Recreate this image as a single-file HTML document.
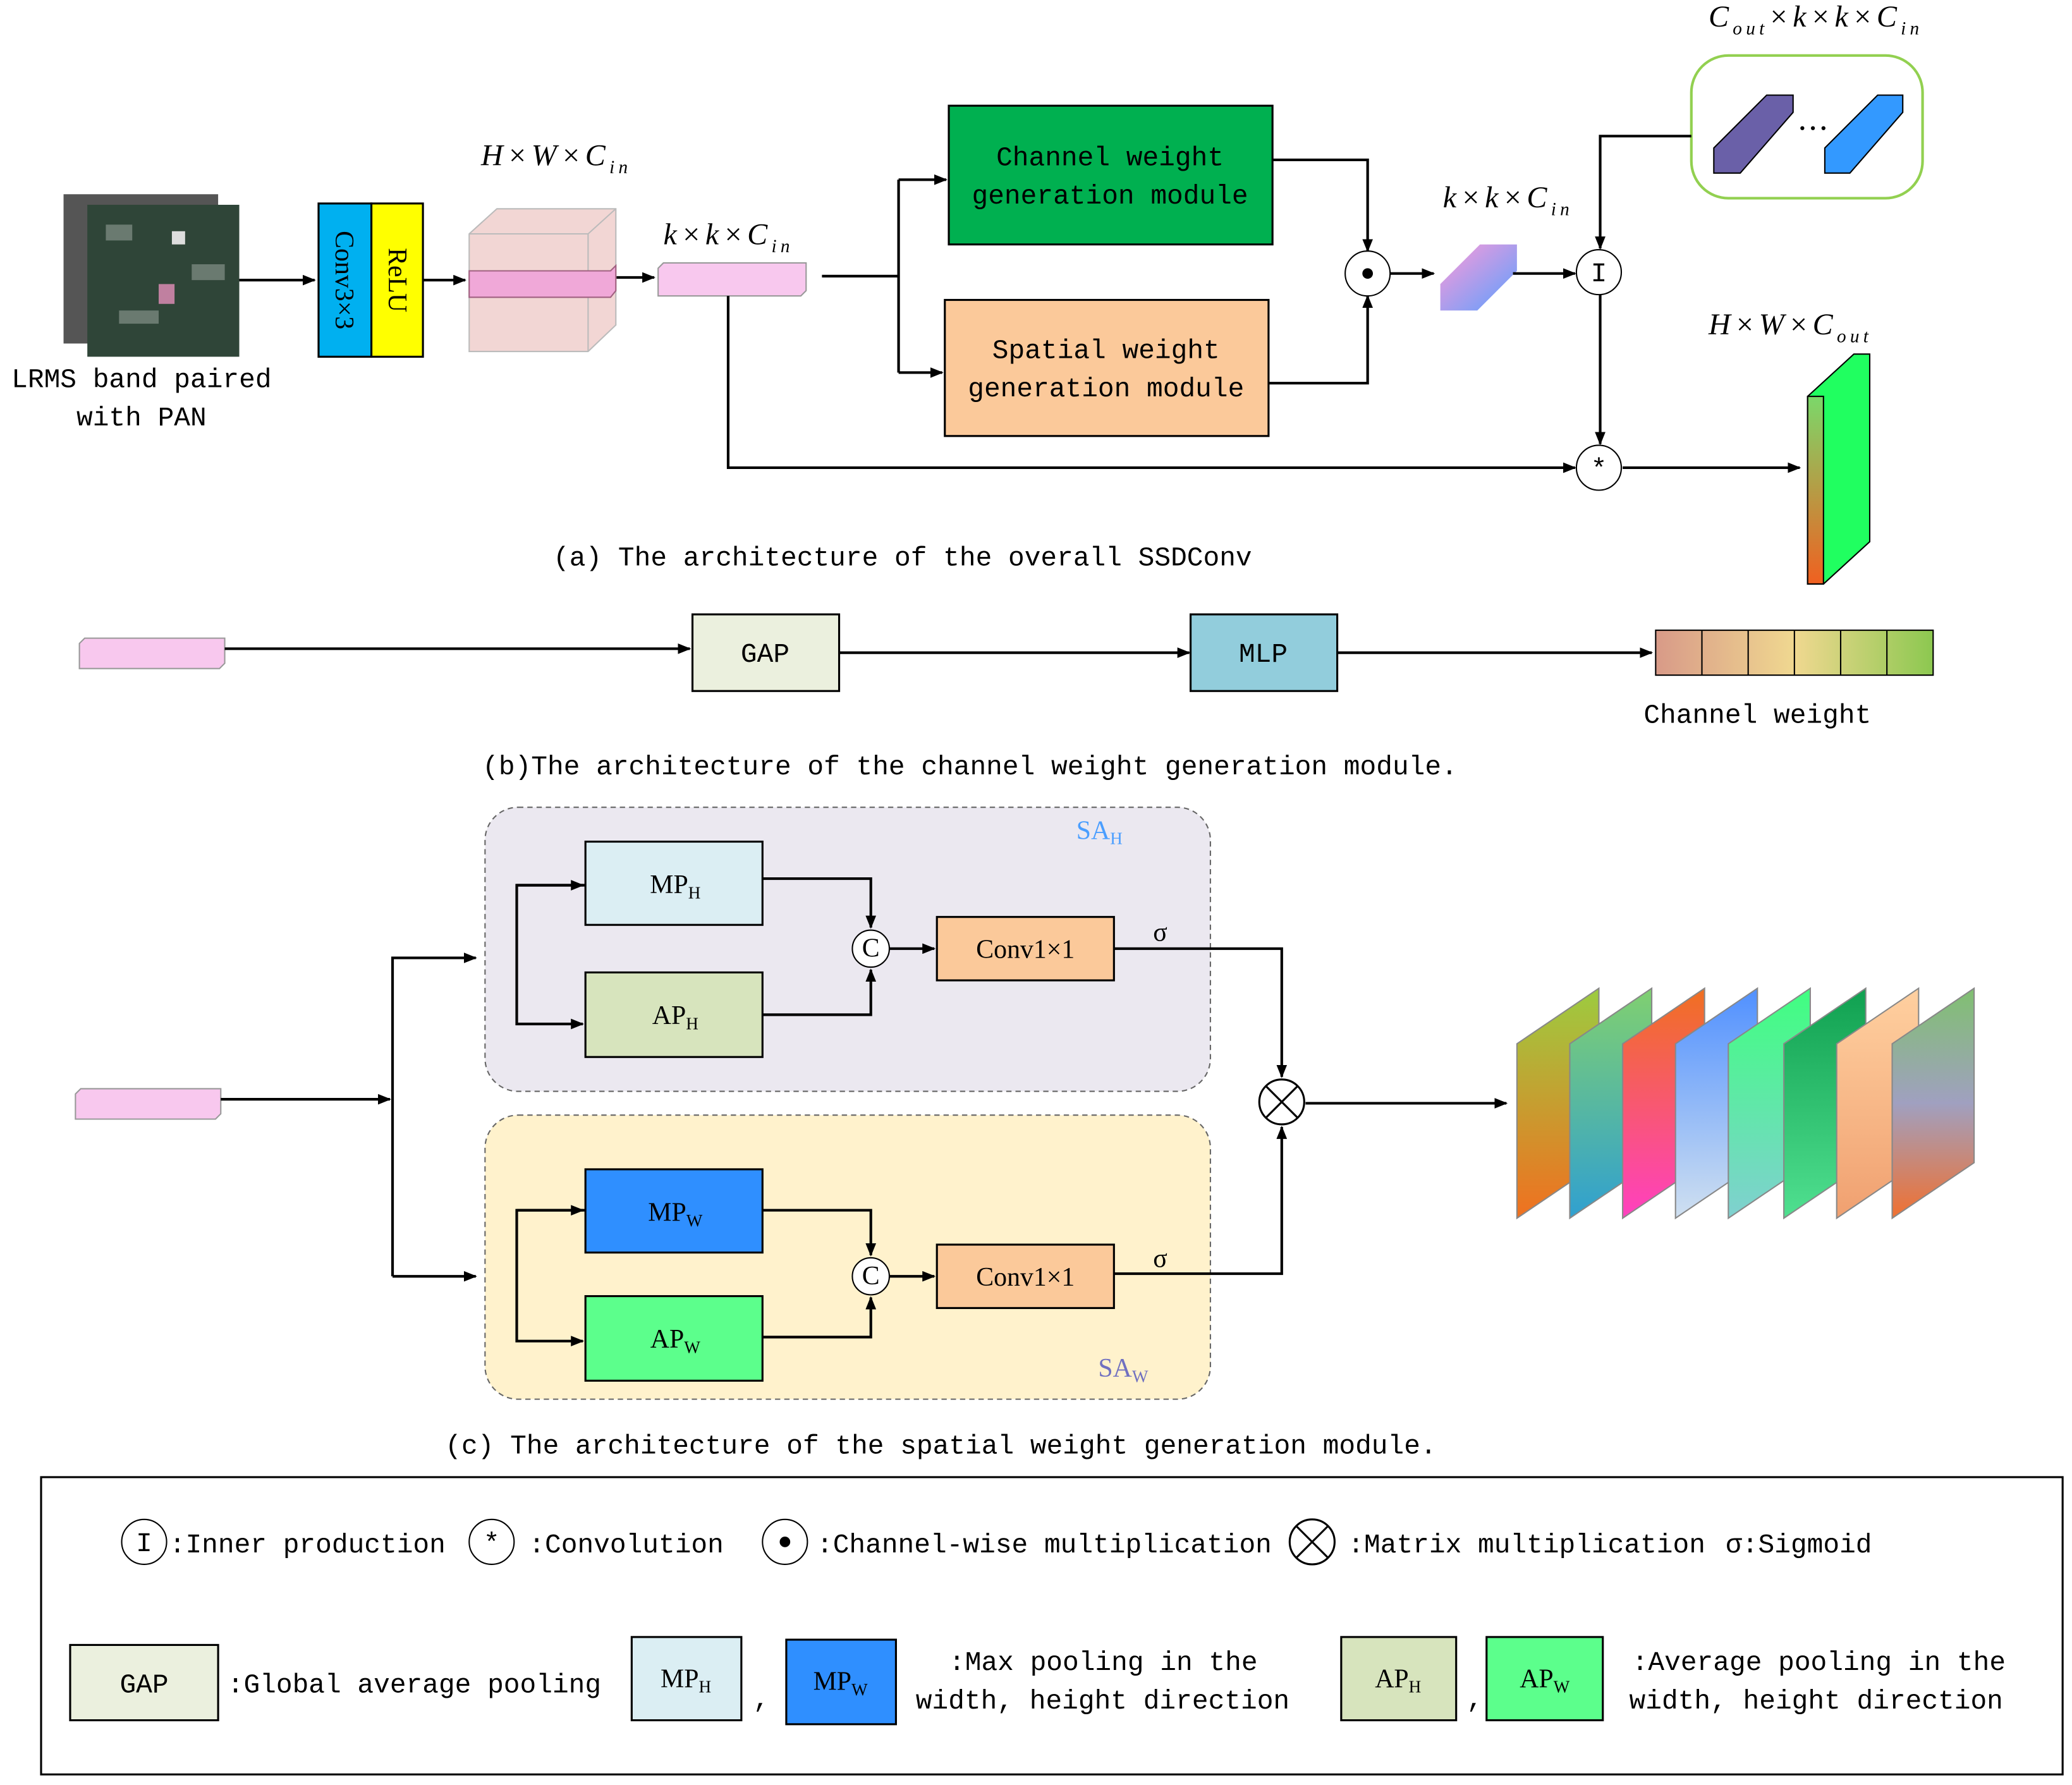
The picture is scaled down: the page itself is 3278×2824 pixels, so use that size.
<!DOCTYPE html>
<html><head><meta charset="utf-8"><style>html,body{margin:0;padding:0;background:#fff}svg{display:block}
.m{font-family:"Liberation Mono","Noto Sans CJK SC",monospace;font-size:20.5px;fill:#000}
.s{font-family:"Liberation Serif",serif;font-style:italic;font-size:23px;fill:#000;letter-spacing:3px}
.b{font-family:"Liberation Serif",serif;font-size:20px;fill:#000}
</style></head><body>
<svg width="3278" height="2824" viewBox="0 0 1568 1351" xmlns="http://www.w3.org/2000/svg">
<defs>
<marker id="a" markerWidth="10" markerHeight="8" refX="9" refY="4" orient="auto" markerUnits="userSpaceOnUse"><path d="M0,0L10,4L0,8z" fill="#000"/></marker>
<linearGradient id="g1" x1="0" y1="0" x2="0" y2="1"><stop offset="0" stop-color="#7bd86a"/><stop offset="1" stop-color="#f06020"/></linearGradient>
<linearGradient id="g2" x1="0" y1="0" x2="1" y2="1"><stop offset="0" stop-color="#ff9ad8"/><stop offset="1" stop-color="#5aa0ff"/></linearGradient>
<linearGradient id="cw" x1="0" x2="1"><stop offset="0" stop-color="#d89a88"/><stop offset=".5" stop-color="#f0d890"/><stop offset="1" stop-color="#8cc850"/></linearGradient>
<linearGradient id="s1" x1="0" y1="0" x2="0" y2="1"><stop offset="0" stop-color="#9ccc40"/><stop offset="1" stop-color="#f07020"/></linearGradient>
<linearGradient id="s2" x1="0" y1="0" x2="0" y2="1"><stop offset="0" stop-color="#80d070"/><stop offset="1" stop-color="#30a0d0"/></linearGradient>
<linearGradient id="s3" x1="0" y1="0" x2="0" y2="1"><stop offset="0" stop-color="#f07020"/><stop offset="1" stop-color="#ff40c0"/></linearGradient>
<linearGradient id="s4" x1="0" y1="0" x2="0" y2="1"><stop offset="0" stop-color="#5090ff"/><stop offset="1" stop-color="#d0e0f0"/></linearGradient>
<linearGradient id="s5" x1="0" y1="0" x2="0" y2="1"><stop offset="0" stop-color="#40ff80"/><stop offset="1" stop-color="#80d0d0"/></linearGradient>
<linearGradient id="s6" x1="0" y1="0" x2="0" y2="1"><stop offset="0" stop-color="#10a050"/><stop offset="1" stop-color="#50e090"/></linearGradient>
<linearGradient id="s7" x1="0" y1="0" x2="0" y2="1"><stop offset="0" stop-color="#ffd0a0"/><stop offset="1" stop-color="#f0a070"/></linearGradient>
<linearGradient id="s8" x1="0" y1="0" x2="0" y2="1"><stop offset="0" stop-color="#80c070"/><stop offset=".5" stop-color="#a0a0c0"/><stop offset="1" stop-color="#f07030"/></linearGradient>
</defs>
<g stroke="#000" stroke-width="2" fill="none">
<!-- (a) -->
<rect x="48" y="147" width="117" height="113" fill="#555" stroke="none"/>
<rect x="66" y="155" width="115" height="115" fill="#2f4538" stroke="none"/>
<g fill="#6a7a70" stroke="none"><rect x="80" y="170" width="20" height="12"/><rect x="130" y="175" width="10" height="10" fill="#ddd"/><rect x="120" y="215" width="12" height="15" fill="#c080a0"/><rect x="90" y="235" width="30" height="10"/><rect x="145" y="200" width="25" height="12"/></g>
<path d="M181,212H238" marker-end="url(#a)"/>
<path d="M320,212H352" marker-end="url(#a)"/>
<path d="M466,210H495" marker-end="url(#a)"/>
<path d="M622,209H680M680,136V282"/>
<path d="M680,136H716" marker-end="url(#a)"/>
<path d="M680,282H713" marker-end="url(#a)"/>
<rect x="241" y="154" width="40" height="116" fill="#00b0f0" stroke-width="1.5"/>
<rect x="281" y="154" width="39" height="116" fill="#ffff00" stroke-width="1.5"/>
<path d="M355,177L376,158H466V246L445,266H355Z" fill="#f2d6d4" stroke="#bbb" stroke-width="1"/>
<path d="M445,177V266M355,177H445L466,158" stroke="#bbb" stroke-width="1"/>
<path d="M355,205H462L466,201V220L462,225H355Z" fill="#f0a8d8" stroke="#a06080" stroke-width="1"/>
<path d="M498,203L502,199H610V220L606,224H498Z" fill="#f8c8ee" stroke="#999" stroke-width="1"/>
<rect x="718" y="80" width="245" height="105" fill="#00b050" stroke-width="1.5"/>
<rect x="715" y="227" width="245" height="103" fill="#fbc99a" stroke-width="1.5"/>
<path d="M963,121H1035V190" marker-end="url(#a)"/>
<path d="M960,290H1035V224" marker-end="url(#a)"/>
<circle cx="1035" cy="207" r="17" fill="#fff" stroke-width="1"/>
<path d="M1052,207H1085" marker-end="url(#a)"/>
<path d="M1090,215L1120,185H1148V205L1118,235H1090Z" fill="url(#g2)" stroke="none"/>
<path d="M1145,207H1192" marker-end="url(#a)"/>
<circle cx="1210" cy="206" r="17" fill="#fff" stroke-width="1"/>
<rect x="1280" y="42" width="175" height="108" rx="28" stroke="#92d050" stroke-width="2"/>
<path d="M1297,112L1337,72H1357V85L1317,131H1297Z" fill="#6a60a8" stroke-width="1"/>
<path d="M1381,112L1421,72H1440V85L1400,131H1381Z" fill="#3399ff" stroke-width="1"/>
<path d="M1280,103H1211V188" marker-end="url(#a)"/>
<path d="M1211,223V336" marker-end="url(#a)"/>
<circle cx="1210" cy="354" r="17" fill="#fff" stroke-width="1"/>
<path d="M551,224V354H1192" marker-end="url(#a)"/>
<path d="M1228,354H1362" marker-end="url(#a)"/>
<path d="M1368,300L1403,268H1415V410L1380,442H1368Z" fill="#20ff60" stroke-width="1"/>
<rect x="1368" y="300" width="12" height="142" fill="url(#g1)" stroke-width="1"/>
<!-- (b) -->
<path d="M60,487L64,483H170V502L166,506H60Z" fill="#f8c8ee" stroke="#999" stroke-width="1"/>
<path d="M170,491H522" marker-end="url(#a)"/>
<rect x="524" y="465" width="111" height="58" fill="#ebf0de" stroke-width="1.5"/>
<path d="M635,494H900" marker-end="url(#a)"/>
<rect x="901" y="465" width="111" height="58" fill="#92cddc" stroke-width="1.5"/>
<path d="M1012,494H1250" marker-end="url(#a)"/>
<rect x="1253" y="477" width="210" height="34" fill="url(#cw)" stroke-width="1"/>
<path d="M1288,477V511M1323,477V511M1358,477V511M1393,477V511M1428,477V511" stroke-width="1"/>
<!-- (c) -->
<rect x="367" y="611" width="549" height="215" rx="25" fill="#ebe8f0" stroke="#666" stroke-width="1" stroke-dasharray="4,3"/>
<rect x="367" y="844" width="549" height="215" rx="25" fill="#fff2cc" stroke="#666" stroke-width="1" stroke-dasharray="4,3"/>
<rect x="443" y="637" width="134" height="63" fill="#dbeef3" stroke-width="1.5"/>
<rect x="443" y="736" width="134" height="64" fill="#d7e4bd" stroke-width="1.5"/>
<rect x="443" y="885" width="134" height="63" fill="#2f8fff" stroke-width="1.5"/>
<rect x="443" y="981" width="134" height="64" fill="#5cff8c" stroke-width="1.5"/>
<path d="M57,828L61,824H167V843L163,847H57Z" fill="#f8c8ee" stroke="#999" stroke-width="1"/>
<path d="M167,832H295" marker-end="url(#a)"/>
<path d="M297,966V725H360" marker-end="url(#a)"/>
<path d="M297,966H360" marker-end="url(#a)"/>
<path d="M443,670H391V775H441" marker-end="url(#a)"/>
<path d="M391,670H441" marker-end="url(#a)"/>
<path d="M443,916H391V1015H441" marker-end="url(#a)"/>
<path d="M391,916H441" marker-end="url(#a)"/>
<path d="M577,665H659V702" marker-end="url(#a)"/>
<path d="M577,768H659V734" marker-end="url(#a)"/>
<path d="M577,916H659V950" marker-end="url(#a)"/>
<path d="M577,1012H659V982" marker-end="url(#a)"/>
<circle cx="659" cy="718" r="14" fill="#fff" stroke-width="1"/>
<circle cx="659" cy="966" r="14" fill="#fff" stroke-width="1"/>
<path d="M673,718H707" marker-end="url(#a)"/>
<path d="M673,966H707" marker-end="url(#a)"/>
<rect x="709" y="694" width="134" height="48" fill="#fbc99a" stroke-width="1.5"/>
<rect x="709" y="942" width="134" height="48" fill="#fbc99a" stroke-width="1.5"/>
<path d="M843,718H970V815" marker-end="url(#a)"/>
<path d="M843,964H970V853" marker-end="url(#a)"/>
<circle cx="970" cy="834" r="17" fill="#fff" stroke-width="1.5"/>
<path d="M958,822L982,846M982,822L958,846" stroke-width="1.5"/>
<path d="M988,835H1140" marker-end="url(#a)"/>
<g stroke="#888" stroke-width="1">
<path d="M1148,790L1210,748V880L1148,922Z" fill="url(#s1)"/>
<path d="M1188,790L1250,748V880L1188,922Z" fill="url(#s2)"/>
<path d="M1228,790L1290,748V880L1228,922Z" fill="url(#s3)"/>
<path d="M1268,790L1330,748V880L1268,922Z" fill="url(#s4)"/>
<path d="M1308,790L1370,748V880L1308,922Z" fill="url(#s5)"/>
<path d="M1350,790L1412,748V880L1350,922Z" fill="url(#s6)"/>
<path d="M1390,790L1452,748V880L1390,922Z" fill="url(#s7)"/>
<path d="M1432,790L1494,748V880L1432,922Z" fill="url(#s8)"/>
</g>
<!-- legend -->
<rect x="31" y="1118" width="1530" height="225" stroke-width="1.5"/>
<circle cx="109" cy="1167" r="17" fill="#fff" stroke-width="1"/>
<circle cx="372" cy="1167" r="17" fill="#fff" stroke-width="1"/>
<circle cx="594" cy="1167" r="17" fill="#fff" stroke-width="1"/>
<circle cx="993" cy="1167" r="17" fill="#fff" stroke-width="1.5"/>
<path d="M981,1155L1005,1179M1005,1155L981,1179" stroke-width="1.5"/>
<rect x="53" y="1245" width="112" height="57" fill="#ebf0de" stroke-width="1.5"/>
<rect x="478" y="1239" width="83" height="63" fill="#dbeef3" stroke-width="1.5"/>
<rect x="595" y="1241" width="83" height="64" fill="#2f8fff" stroke-width="1.5"/>
<rect x="1015" y="1239" width="87" height="63" fill="#d7e4bd" stroke-width="1.5"/>
<rect x="1125" y="1239" width="88" height="63" fill="#5cff8c" stroke-width="1.5"/>
</g>
<g fill="#000" stroke="none">
<circle cx="1035" cy="207" r="4"/><circle cx="594" cy="1167" r="4"/>
<circle cx="1364" cy="97" r="1.5"/><circle cx="1372" cy="97" r="1.5"/><circle cx="1380" cy="97" r="1.5"/>
</g>
<!-- texts -->
<text class="m" x="107" y="293" text-anchor="middle">LRMS band paired</text>
<text class="m" x="107" y="322" text-anchor="middle">with PAN</text>
<text class="b" transform="translate(254,212) rotate(90)" text-anchor="middle">Conv3×3</text>
<text class="b" transform="translate(294,212) rotate(90)" text-anchor="middle">ReLU</text>
<text class="s" x="364" y="125">H×W×C<tspan font-size="14" dy="6">in</tspan></text>
<text class="s" x="502" y="185">k×k×C<tspan font-size="14" dy="6">in</tspan></text>
<text class="s" x="1092" y="157">k×k×C<tspan font-size="14" dy="6">in</tspan></text>
<text class="s" x="1293" y="20">C<tspan font-size="14" dy="6">out</tspan><tspan dy="-6">×k×k×C</tspan><tspan font-size="14" dy="6">in</tspan></text>
<text class="s" x="1293" y="253">H×W×C<tspan font-size="14" dy="6">out</tspan></text>
<text class="m" x="840" y="125" text-anchor="middle">Channel weight</text>
<text class="m" x="840" y="154" text-anchor="middle">generation module</text>
<text class="m" x="837" y="271" text-anchor="middle">Spatial weight</text>
<text class="m" x="837" y="300" text-anchor="middle">generation module</text>
<text class="m" x="1210" y="213" text-anchor="middle">I</text>
<text class="m" x="1210" y="361" text-anchor="middle">*</text>
<text class="m" x="683" y="428" text-anchor="middle">(a) The architecture of the overall SSDConv</text>
<text class="m" x="579" y="501" text-anchor="middle">GAP</text>
<text class="m" x="956" y="501" text-anchor="middle">MLP</text>
<text class="m" x="1330" y="547" text-anchor="middle">Channel weight</text>
<text class="m" x="734" y="586" text-anchor="middle">(b)The architecture of the channel weight generation module.</text>
<text class="b" x="511" y="676" text-anchor="middle">MP<tspan font-size="13" dy="4">H</tspan></text>
<text class="b" x="511" y="775" text-anchor="middle">AP<tspan font-size="13" dy="4">H</tspan></text>
<text class="b" x="511" y="924" text-anchor="middle">MP<tspan font-size="13" dy="4">W</tspan></text>
<text class="b" x="511" y="1020" text-anchor="middle">AP<tspan font-size="13" dy="4">W</tspan></text>
<text class="b" x="659" y="724" text-anchor="middle" font-size="14">C</text>
<text class="b" x="659" y="972" text-anchor="middle" font-size="14">C</text>
<text class="b" x="776" y="725" text-anchor="middle" font-size="21">Conv1×1</text>
<text class="b" x="776" y="973" text-anchor="middle" font-size="21">Conv1×1</text>
<text class="b" x="878" y="712" text-anchor="middle" font-size="24">σ</text>
<text class="b" x="878" y="959" text-anchor="middle" font-size="24">σ</text>
<text class="b" x="832" y="635" text-anchor="middle" style="fill:#4a9eff">SA<tspan font-size="13" dy="4">H</tspan></text>
<text class="b" x="850" y="1042" text-anchor="middle" style="fill:#7070c0">SA<tspan font-size="13" dy="4">W</tspan></text>
<text class="m" x="712" y="1100" text-anchor="middle">(c) The architecture of the spatial weight generation module.</text>
<text class="m" x="109" y="1174" text-anchor="middle">I</text>
<text class="m" x="128" y="1175">:Inner production</text>
<text class="m" x="372" y="1174" text-anchor="middle">*</text>
<text class="m" x="400" y="1175">:Convolution</text>
<text class="m" x="618" y="1175">:Channel-wise multiplication</text>
<text class="m" x="1020" y="1175">:Matrix multiplication</text>
<text class="m" x="1306" y="1175">σ:Sigmoid</text>
<text class="m" x="109" y="1281" text-anchor="middle">GAP</text>
<text class="m" x="172" y="1281">:Global average pooling</text>
<text class="b" x="519" y="1277" text-anchor="middle">MP<tspan font-size="13" dy="4">H</tspan></text>
<text class="b" x="636" y="1279" text-anchor="middle">MP<tspan font-size="13" dy="4">W</tspan></text>
<text class="b" x="1058" y="1277" text-anchor="middle">AP<tspan font-size="13" dy="4">H</tspan></text>
<text class="b" x="1169" y="1277" text-anchor="middle">AP<tspan font-size="13" dy="4">W</tspan></text>
<text class="m" x="570" y="1292">,</text>
<text class="m" x="1110" y="1292">,</text>
<text class="m" x="718" y="1264">:Max pooling in the</text>
<text class="m" x="693" y="1293">width, height direction</text>
<text class="m" x="1235" y="1264">:Average pooling in the</text>
<text class="m" x="1233" y="1293">width, height direction</text>
</svg>
</body></html>
